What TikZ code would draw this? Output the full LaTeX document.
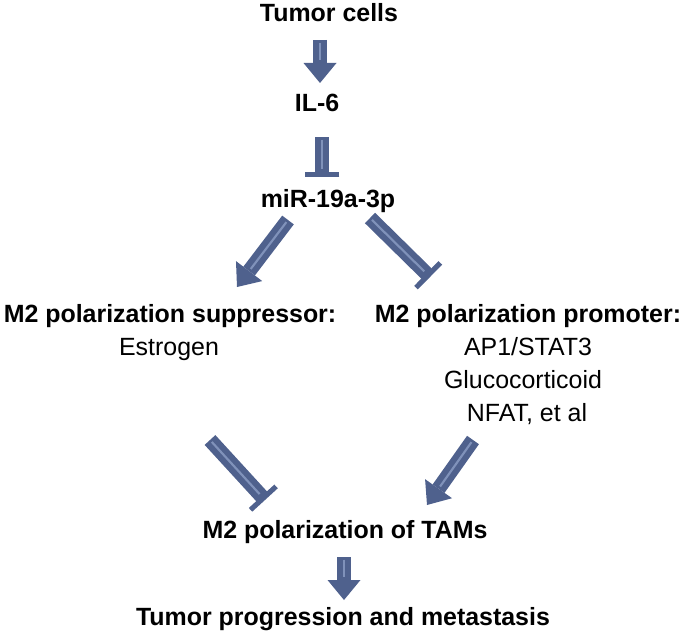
\documentclass[tikz,border=0pt]{standalone}
\usepackage{fontspec}
\setmainfont{Liberation Sans}
\usepackage{xcolor}
\usepackage{tikz}
\usetikzlibrary{arrows.meta}
\definecolor{arrowblue}{RGB}{79, 97, 141}
\definecolor{arrowlight}{RGB}{128, 146, 186}

\begin{document}
\begin{tikzpicture}[
    x=0.75pt, y=-0.75pt,
    % -------------------------------------------------
    % Text styles
    % -------------------------------------------------
    heading/.style={
        inner sep=0pt,
        anchor=base,
        font=\bfseries\fontsize{18.7}{22}\selectfont
    },
    member/.style={
        inner sep=0pt,
        anchor=base,
        font=\fontsize{18.7}{22}\selectfont
    },
    % -------------------------------------------------
    % Connections
    % -------------------------------------------------
    actarrow/.style={
        line width=10.9pt,
        draw=arrowblue,
        -{Triangle[width=24.75pt, length=15pt, line width=0pt]},
        postaction={draw=arrowlight, line width=1.6pt, -,
            shorten <=2pt, shorten >=17pt}
    },
    inharrow/.style={
        line width=10.9pt,
        draw=arrowblue,
        -{Bar[width=26pt, line width=3.8pt]},
        postaction={draw=arrowlight, line width=1.6pt, -,
            shorten <=2pt, shorten >=6pt}
    }
]
\useasboundingbox (0,0) rectangle (685,635);

% =====================================================
% Upstream signal
% =====================================================

\node[heading] (tumor) at (329,22) {Tumor cells};

\node[heading] (il6) at (317,112) {IL-6};

\node[heading] (mir) at (328,207) {miR-19a-3p};

% =====================================================
% Suppressor branch
% =====================================================

\node[heading] (supp) at (170,322) {M2 polarization suppressor:};

\node[member] (estrogen) at (169,355) {Estrogen};

% =====================================================
% Promoter branch
% =====================================================

\node[heading] (prom) at (528,322) {M2 polarization promoter:};

\node[member] (ap1) at (528,355) {AP1/STAT3};

\node[member] (gluco) at (523,388) {Glucocorticoid};

\node[member] (nfat) at (527,421) {NFAT, et al};

% =====================================================
% Outcome
% =====================================================

\node[heading] (tams) at (345,538) {M2 polarization of TAMs};

\node[heading] (prog) at (343,625) {Tumor progression and metastasis};

% =====================================================
% Tumor cells -> IL-6 -| miR-19a-3p
% =====================================================

\draw[actarrow]
    ([shift={(-9,18)}]tumor.base) -- ([shift={(3,-29)}]il6.base);

\draw[inharrow]
    ([shift={(5,25)}]il6.base) -- ([shift={(-6,-30)}]mir.base);

% =====================================================
% miR-19a-3p -> suppressor, miR-19a-3p -| promoter
% =====================================================

\draw[actarrow]
    ([shift={(-40,13)}]mir.base) -- ([shift={(67,-35)}]supp.base);

\draw[inharrow]
    ([shift={(42,11)}]mir.base) -- ([shift={(-98,-45)}]prom.base);

% =====================================================
% Branches -> M2 polarization of TAMs
% =====================================================

\draw[inharrow]
    ([shift={(41,85)}]estrogen.base) -- ([shift={(-80,-38)}]tams.base);

\draw[actarrow]
    ([shift={(-54,19)}]nfat.base) -- ([shift={(82,-33)}]tams.base);

% =====================================================
% TAMs -> progression
% =====================================================

\draw[actarrow]
    ([shift={(-1,19)}]tams.base) -- ([shift={(1,-25)}]prog.base);

\end{tikzpicture}
\end{document}
